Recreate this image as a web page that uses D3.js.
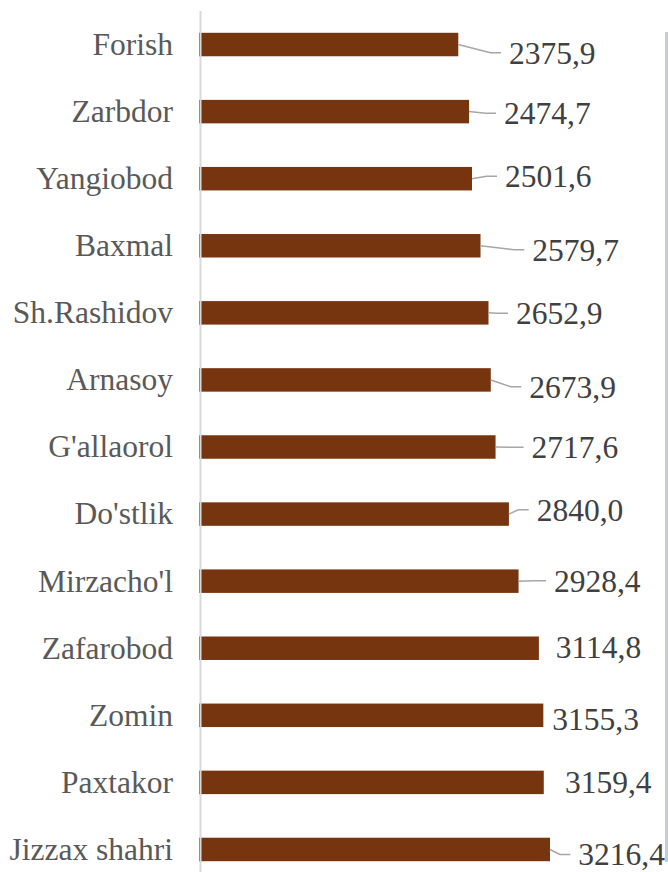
<!DOCTYPE html>
<html>
<head>
<meta charset="utf-8">
<script src="https://cdn.jsdelivr.net/npm/d3@7"></script>
<style>
  html, body { margin: 0; padding: 0; background: #ffffff; }
  svg { display: block; }
</style>
</head>
<body>
<svg id="chart" width="668" height="872"></svg>
<script>
// ---- data ----
const categories = ["Forish", "Zarbdor", "Yangiobod", "Baxmal", "Sh.Rashidov", "Arnasoy",
  "G'allaorol", "Do'stlik", "Mirzacho'l", "Zafarobod", "Zomin", "Paxtakor", "Jizzax shahri"];
const values = [2375.9, 2474.7, 2501.6, 2579.7, 2652.9, 2673.9, 2717.6, 2840.0, 2928.4,
  3114.8, 3155.3, 3159.4, 3216.4];
const valueLabels = ["2375,9", "2474,7", "2501,6", "2579,7", "2652,9", "2673,9", "2717,6",
  "2840,0", "2928,4", "3114,8", "3155,3", "3159,4", "3216,4"];

// ---- layout (manual label placement, px relative to bar end / bar centre) ----
const labelDx = [50.7, 35, 33, 51.8, 27.5, 38.5, 36, 27.8, 35.4, 16.8, 9, 21.2, 28.3];
const labelDy = [8.3, 1.7, -2.5, 4, 0.5, 6.8, 0.2, -4.3, -0.4, -1.3, 3.9, -0.3, 5];

const svg = d3.select("#chart");
const fontFam = "'Liberation Serif', 'Times New Roman', serif";

const x = d3.scaleLinear().domain([0, 4000]).range([199, 635.5]);
const y = d3.scaleBand().domain(categories).range([11, 883])
  .paddingInner(0.65).paddingOuter(0.325);

const data = categories.map((c, i) => ({ c, v: values[i], lab: valueLabels[i], dx: labelDx[i], dy: labelDy[i] }));

// bars
svg.append("g").selectAll("rect").data(data).join("rect")
  .attr("x", x(0))
  .attr("y", d => y(d.c))
  .attr("width", d => x(d.v) - x(0))
  .attr("height", y.bandwidth())
  .attr("fill", "#76340f");

// vertical axis line
svg.append("line")
  .attr("x1", 200.5).attr("x2", 200.5)
  .attr("y1", 11).attr("y2", 872)
  .attr("stroke", "#d9d9d9").attr("stroke-width", 2);

// category labels
svg.append("g").selectAll("text").data(data).join("text")
  .attr("x", 173)
  .attr("y", d => y(d.c) + y.bandwidth() / 2)
  .attr("dy", "0.33em")
  .attr("text-anchor", "end")
  .attr("font-family", fontFam)
  .attr("font-size", 31.5)
  .attr("fill", "#595959")
  .text(d => d.c);

// leader lines
svg.append("g").selectAll("path").data(data.filter(d => d.dx > 25)).join("path")
  .attr("d", d => {
    const x0 = x(d.v), y0 = y(d.c) + y.bandwidth() / 2;
    const xe = x0 + d.dx - 8, ye = y0 + d.dy;
    const xm = xe - 10.5;
    return `M${x0},${y0}L${xm},${ye}L${xe},${ye}`;
  })
  .attr("fill", "none")
  .attr("stroke", "#a6a6a6")
  .attr("stroke-width", 1.5);

// value labels
svg.append("g").selectAll("text").data(data).join("text")
  .attr("x", d => x(d.v) + d.dx)
  .attr("y", d => y(d.c) + y.bandwidth() / 2 + d.dy)
  .attr("dy", "0.35em")
  .attr("font-family", fontFam)
  .attr("font-size", 31.5)
  .attr("fill", "#404040")
  .text(d => d.lab);

// right frame edge
svg.append("rect")
  .attr("x", 665).attr("y", 32).attr("width", 3).attr("height", 830)
  .attr("fill", "#c3ced2");
</script>
</body>
</html>
